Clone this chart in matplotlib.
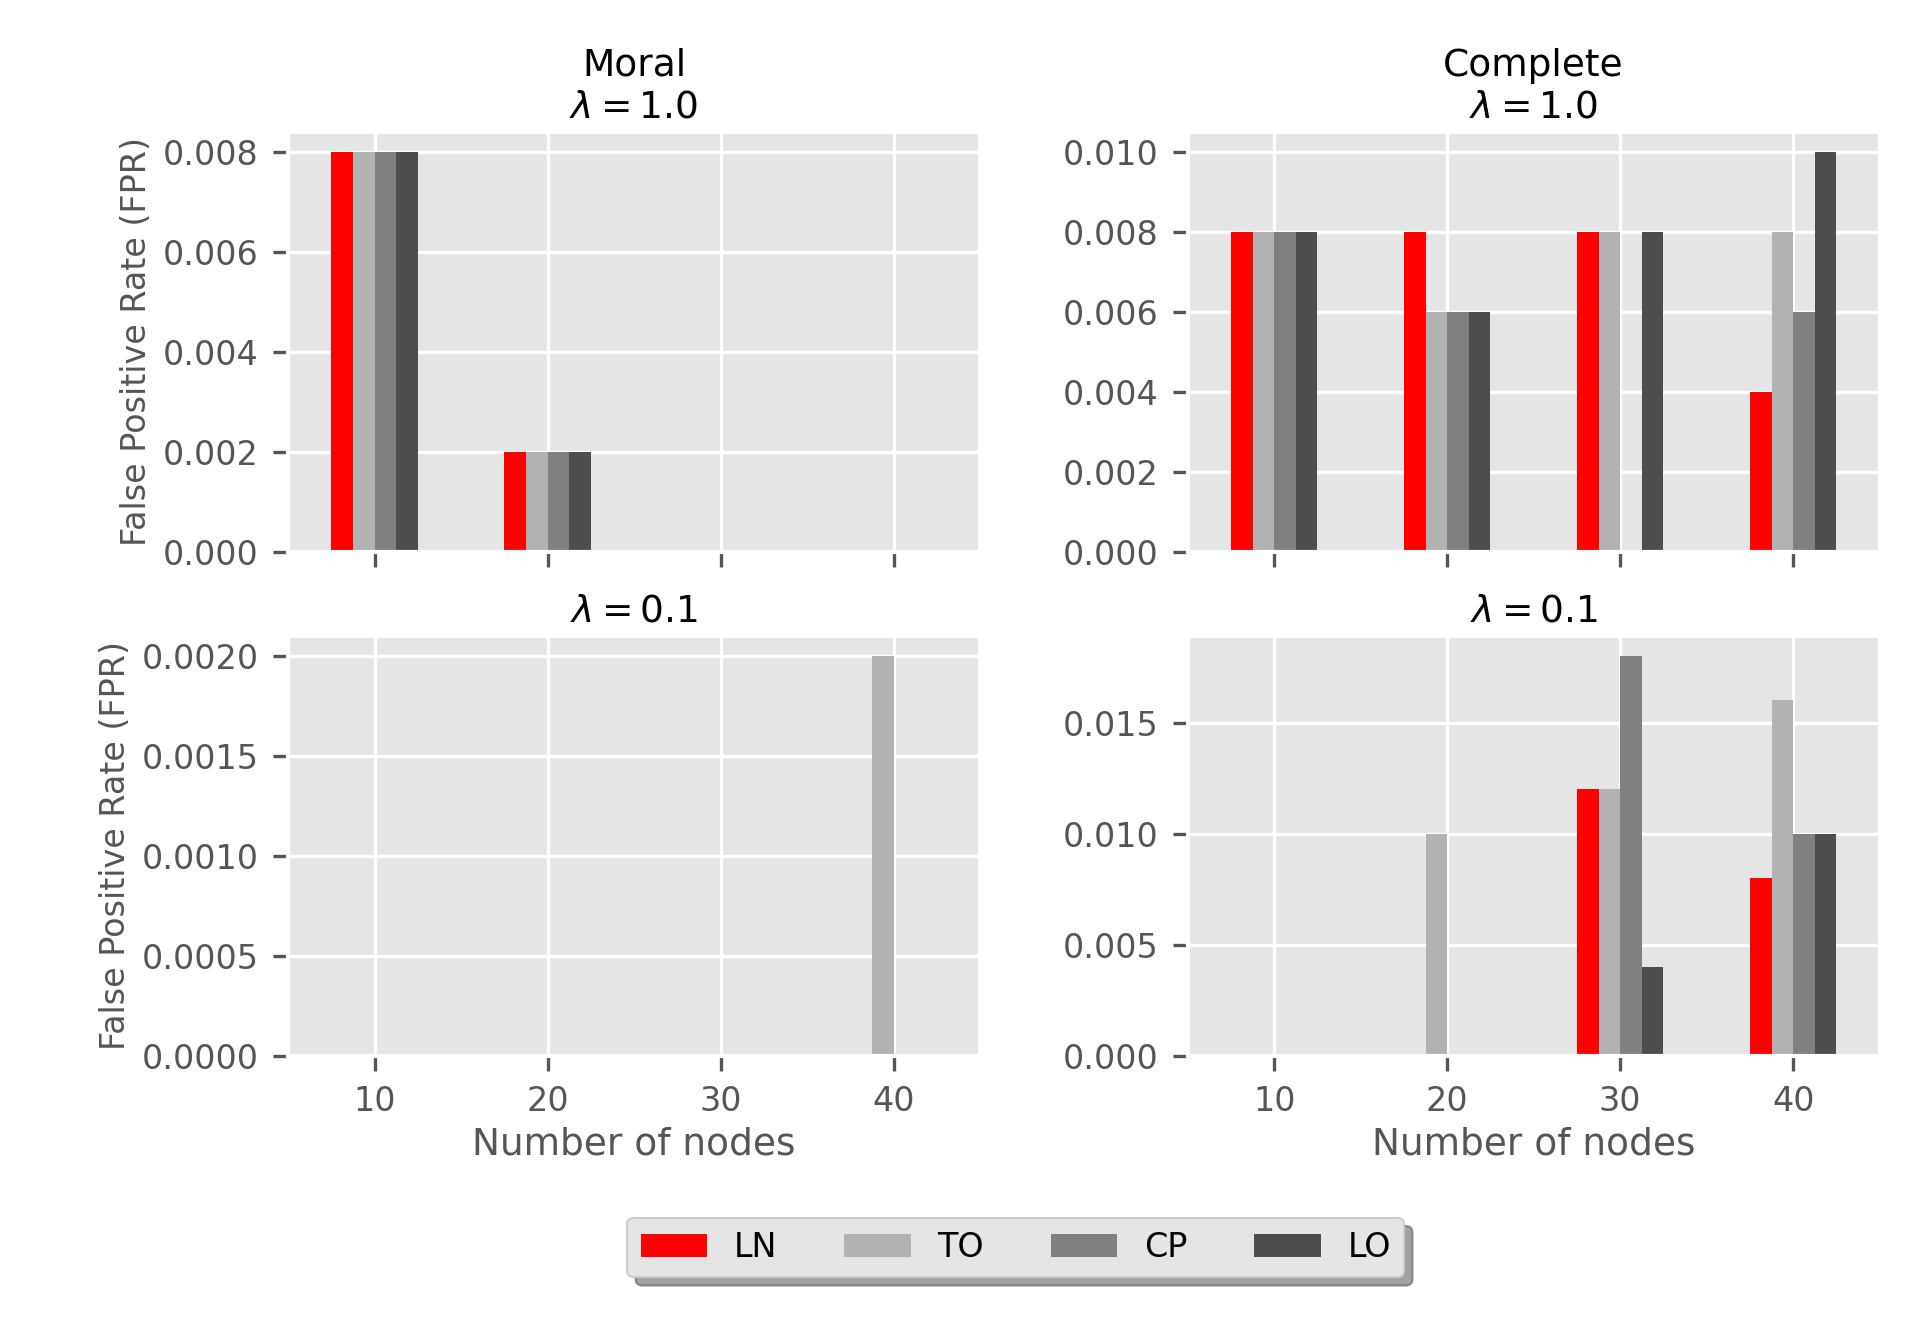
import numpy as np
import matplotlib
matplotlib.use("Agg")
import matplotlib.pyplot as plt

plt.style.use("ggplot")

# ---*** DATA ***---
nodes = [10, 20, 30, 40]
methods = ["LN", "TO", "CP", "LO"]
colors = ["#FF0000", "#B2B2B2", "#808080", "#4D4D4D"]

moral_l10 = {"LN": [0.008, 0.002, 0.0, 0.0],
             "TO": [0.008, 0.002, 0.0, 0.0],
             "CP": [0.008, 0.002, 0.0, 0.0],
             "LO": [0.008, 0.002, 0.0, 0.0]}
moral_l01 = {"LN": [0.0, 0.0, 0.0, 0.0],
             "TO": [0.0, 0.0, 0.0, 0.002],
             "CP": [0.0, 0.0, 0.0, 0.0],
             "LO": [0.0, 0.0, 0.0, 0.0]}
complete_l10 = {"LN": [0.008, 0.008, 0.008, 0.004],
                "TO": [0.008, 0.006, 0.008, 0.008],
                "CP": [0.008, 0.006, 0.0, 0.006],
                "LO": [0.008, 0.006, 0.008, 0.010]}
complete_l01 = {"LN": [0.0, 0.0, 0.012, 0.008],
                "TO": [0.0, 0.010, 0.012, 0.016],
                "CP": [0.0, 0.0, 0.018, 0.010],
                "LO": [0.0, 0.0, 0.004, 0.010]}

titles = ["Moral\n$\\lambda = 1.0$", "Complete\n$\\lambda = 1.0$",
          "$\\lambda = 0.1$", "$\\lambda = 0.1$"]
panels = [moral_l10, complete_l10, moral_l01, complete_l01]

# ---*** PLOT ***---
fig, axs = plt.subplots(2, 2, figsize=(6.4, 4.4), sharex=True)
fig.subplots_adjust(left=0.150, right=0.979, top=0.900, bottom=0.200,
                    wspace=0.30, hspace=0.20)

bw = 1.25
x = np.array(nodes, dtype=float)
for k, ax in enumerate(axs.flat):
    data = panels[k]
    for i, m in enumerate(methods):
        ax.bar(x + (i - 1.5) * bw, data[m], width=bw, color=colors[i], label=m)
    ax.set_title(titles[k], fontsize=9, color="black", pad=3.5)
    ax.set_xlim(5, 45)
    ax.set_xticks(nodes)
    ax.tick_params(labelsize=8)

for ax in axs[:, 0]:
    ax.set_ylabel("False Positive Rate (FPR)", fontsize=8, labelpad=2.3)
for ax in axs[1, :]:
    ax.set_xlabel("Number of nodes", fontsize=9, labelpad=2)

h, l = axs[0, 0].get_legend_handles_labels()
fig.legend(h, l, loc="center", bbox_to_anchor=(0.529, 0.055), ncol=4,
           fontsize=8, shadow=True, frameon=True)

fig.savefig("out.png", dpi=300)
